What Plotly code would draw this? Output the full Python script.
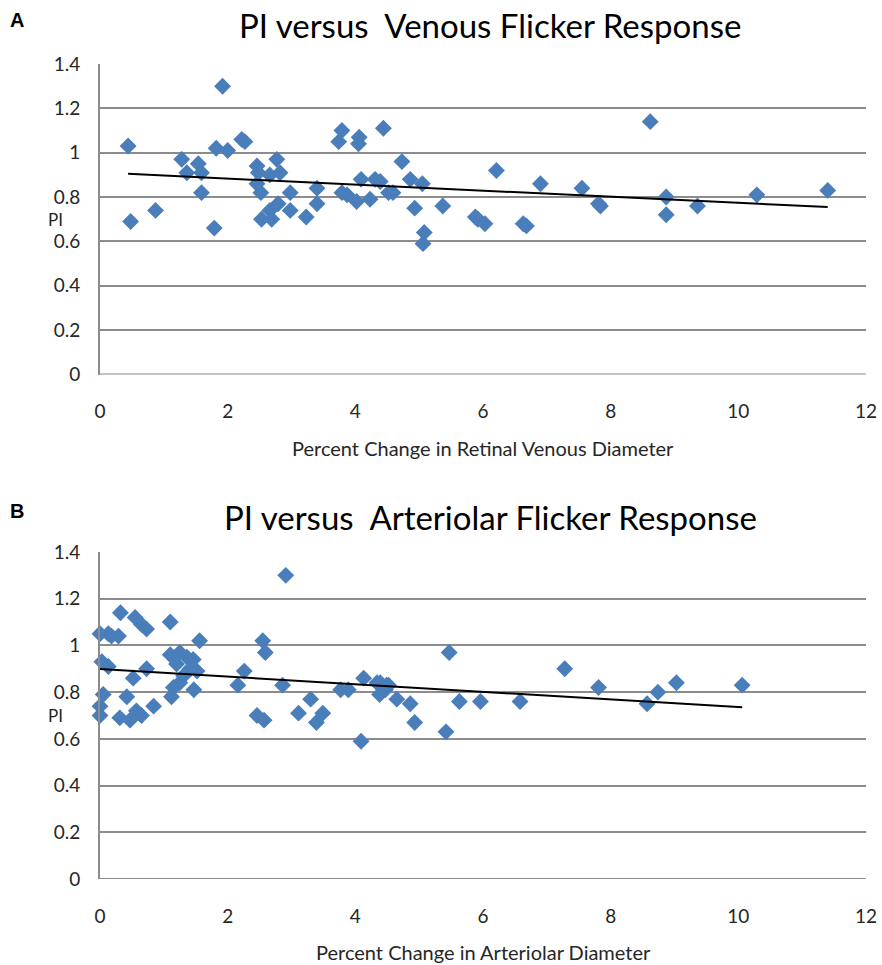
import numpy as np
import plotly.graph_objects as go

# Panel A: PI versus venous flicker response
venous_x = [0.44, 0.48, 0.87, 1.92, 1.28, 1.36, 1.54, 1.59, 1.59, 1.79, 1.82, 2.00,
            2.22, 2.27, 2.46, 2.48, 2.46, 2.52, 2.77, 2.82, 2.66, 2.98, 2.53, 2.69,
            2.66, 2.79, 2.98, 3.23, 3.40, 3.40, 3.79, 3.74, 4.06, 4.05, 4.44, 3.79,
            3.87, 4.02, 4.09, 4.23, 4.31, 4.52, 4.39, 4.73, 4.59, 4.86, 5.05, 4.93,
            5.37, 5.08, 5.06, 6.21, 5.88, 5.92, 6.03, 6.63, 6.68, 6.90, 7.55, 7.81,
            7.84, 8.62, 8.87, 8.87, 9.36, 10.29, 11.40]
venous_pi = [1.03, 0.69, 0.74, 1.30, 0.97, 0.91, 0.95, 0.91, 0.82, 0.66, 1.02, 1.01,
             1.06, 1.05, 0.94, 0.91, 0.86, 0.82, 0.97, 0.91, 0.90, 0.82, 0.70, 0.70,
             0.74, 0.77, 0.74, 0.71, 0.84, 0.77, 1.10, 1.05, 1.07, 1.04, 1.11, 0.82,
             0.81, 0.78, 0.88, 0.79, 0.88, 0.82, 0.87, 0.96, 0.82, 0.88, 0.86, 0.75,
             0.76, 0.64, 0.59, 0.92, 0.71, 0.70, 0.68, 0.68, 0.67, 0.86, 0.84, 0.77,
             0.76, 1.14, 0.80, 0.72, 0.76, 0.81, 0.83]

# Panel B: PI versus arteriolar flicker response
arteriolar_x = [2.91, 0.32, 0.55, 0.65, 0.73, 1.10, 0.00, 0.13, 0.18, 0.29, 1.56, 0.03,
                0.13, 0.73, 0.52, 1.10, 1.25, 1.36, 1.46, 1.20, 1.41, 1.52, 1.31, 1.15,
                1.12, 1.25, 1.47, 0.05, 0.42, 0.00, 0.00, 0.31, 0.47, 0.57, 0.65, 0.84,
                2.26, 2.16, 2.55, 2.59, 2.46, 2.57, 2.86, 3.11, 3.30, 3.49, 3.39, 3.77,
                3.89, 4.09, 4.13, 4.34, 4.38, 4.49, 4.39, 4.52, 4.47, 4.65, 4.86, 4.93,
                5.47, 5.42, 5.63, 5.96, 6.58, 7.28, 7.81, 8.57, 8.74, 9.03, 10.06]
arteriolar_pi = [1.30, 1.14, 1.12, 1.09, 1.07, 1.10, 1.05, 1.05, 1.04, 1.04, 1.02, 0.93,
                 0.91, 0.90, 0.86, 0.96, 0.97, 0.95, 0.94, 0.92, 0.90, 0.89, 0.87, 0.82,
                 0.78, 0.84, 0.81, 0.79, 0.78, 0.74, 0.70, 0.69, 0.68, 0.72, 0.70, 0.74,
                 0.89, 0.83, 1.02, 0.97, 0.70, 0.68, 0.83, 0.71, 0.77, 0.71, 0.67, 0.81,
                 0.81, 0.59, 0.86, 0.84, 0.79, 0.83, 0.84, 0.83, 0.81, 0.77, 0.75, 0.67,
                 0.97, 0.63, 0.76, 0.76, 0.76, 0.90, 0.82, 0.75, 0.80, 0.84, 0.83]

titles = ["PI versus  Venous Flicker Response", "PI versus  Arteriolar Flicker Response"]
x_titles = ["Percent Change in Retinal Venous Diameter", "Percent Change in Arteriolar Diameter"]
panel_letters = ["A", "B"]
y_title = "PI"

W, H = 882, 965
MARKER_COLOR = "#4A7EBB"
GRID = "#8C8C8C"
FONT = "Lato"
TEXT = "#262626"

fig = go.Figure()

panels = [
    dict(x=venous_x, y=venous_pi, top=64, bottom=374.5, title_y=25, letter_y=20),
    dict(x=arteriolar_x, y=arteriolar_pi, top=552, bottom=879, title_y=517, letter_y=511),
]
left, right = 100, 866

annotations = []
for i, p in enumerate(panels):
    xa = "x" if i == 0 else "x2"
    ya = "y" if i == 0 else "y2"
    xs = np.array(p["x"]); ys = np.array(p["y"])
    fig.add_trace(go.Scatter(x=xs, y=ys, mode="markers", xaxis=xa, yaxis=ya,
                             marker=dict(symbol="diamond", size=13, color=MARKER_COLOR,
                                         line=dict(width=0)),
                             showlegend=False, cliponaxis=False))
    m, b = np.polyfit(xs, ys, 1)
    xl = np.array([xs.min(), xs.max()])
    fig.add_trace(go.Scatter(x=xl, y=m * xl + b, mode="lines", xaxis=xa, yaxis=ya,
                             line=dict(color="black", width=2), showlegend=False))
    ydom = [(H - p["bottom"]) / H, (H - p["top"]) / H]
    suffix = "" if i == 0 else "2"
    fig.update_layout(**{
        "xaxis" + suffix: dict(domain=[left / W, right / W], range=[0, 12], dtick=2,
                               tick0=0, showgrid=False, zeroline=False, showline=False,
                               ticks="outside", ticklen=20, tickcolor="rgba(0,0,0,0)",
                               tickfont=dict(family=FONT, size=19, color=TEXT),
                               anchor=ya, automargin=False, fixedrange=True),
        "yaxis" + suffix: dict(domain=ydom, range=[0, 1.4], dtick=0.2, tick0=0,
                               showgrid=True, gridcolor=GRID, gridwidth=2,
                               zeroline=False, showline=True, linecolor=GRID, linewidth=2,
                               ticks="outside", ticklen=14, tickcolor="rgba(0,0,0,0)",
                               tickfont=dict(family=FONT, size=19, color=TEXT),
                               anchor=xa, automargin=False, fixedrange=True),
    })
    cy = (p["top"] + p["bottom"]) / 2
    annotations += [
        dict(text=titles[i], x=490 / W, y=(H - p["title_y"]) / H, xref="paper", yref="paper",
             showarrow=False, font=dict(family=FONT, size=33, color="black"),
             xanchor="center", yanchor="middle"),
        dict(text="<b>" + panel_letters[i] + "</b>", x=17 / W, y=(H - p["letter_y"]) / H,
             xref="paper", yref="paper", showarrow=False,
             font=dict(family="Liberation Sans", size=20, color="black"),
             xanchor="center", yanchor="middle"),
        dict(text=x_titles[i], x=483 / W, y=(H - (p["bottom"] + 73)) / H, xref="paper",
             yref="paper", showarrow=False, font=dict(family=FONT, size=20, color=TEXT),
             xanchor="center", yanchor="middle"),
        dict(text=y_title, x=55 / W, y=(H - cy) / H, xref="paper", yref="paper",
             showarrow=False, font=dict(family=FONT, size=17, color=TEXT),
             xanchor="center", yanchor="middle"),
    ]
    fig.add_shape(type="line", xref=xa, yref=ya, x0=0, x1=12, y0=0, y1=0,
                  line=dict(color=GRID, width=2))

fig.update_layout(width=W, height=H, margin=dict(l=0, r=0, t=0, b=0),
                  paper_bgcolor="white", plot_bgcolor="white",
                  annotations=annotations, hovermode=False)

fig.write_html("out.html", config={"displayModeBar": False, "staticPlot": True},
               post_script="document.body.style.margin='0';document.body.style.overflow='hidden';")
